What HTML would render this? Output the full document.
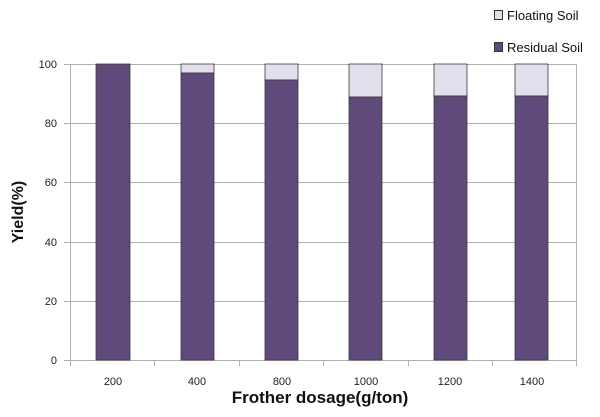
<!DOCTYPE html>
<html><head><meta charset="utf-8"><style>
html,body{margin:0;padding:0;background:#fff;}
svg{display:block;font-family:"Liberation Sans",sans-serif;}
</style></head><body>
<svg width="600" height="417" viewBox="0 0 600 417">
<rect x="0" y="0" width="600" height="417" fill="#fff"/>
<g stroke="#b0b0b0" stroke-width="1">
<line x1="70" y1="64.5" x2="577" y2="64.5"/>
<line x1="70" y1="123.5" x2="577" y2="123.5"/>
<line x1="70" y1="182.5" x2="577" y2="182.5"/>
<line x1="70" y1="242.5" x2="577" y2="242.5"/>
<line x1="70" y1="301.5" x2="577" y2="301.5"/>
<line x1="70.5" y1="64" x2="70.5" y2="360"/>
<line x1="576.5" y1="64" x2="576.5" y2="366"/>
<line x1="64" y1="360.5" x2="577" y2="360.5"/>
<line x1="64" y1="64.5" x2="70" y2="64.5"/>
<line x1="64" y1="123.5" x2="70" y2="123.5"/>
<line x1="64" y1="182.5" x2="70" y2="182.5"/>
<line x1="64" y1="242.5" x2="70" y2="242.5"/>
<line x1="64" y1="301.5" x2="70" y2="301.5"/>
<line x1="70.5" y1="360" x2="70.5" y2="366"/>
<line x1="154.5" y1="360" x2="154.5" y2="366"/>
<line x1="239.5" y1="360" x2="239.5" y2="366"/>
<line x1="323.5" y1="360" x2="323.5" y2="366"/>
<line x1="408.5" y1="360" x2="408.5" y2="366"/>
<line x1="492.5" y1="360" x2="492.5" y2="366"/>
</g>
<g stroke="#3a3a3a" stroke-width="0.8">
<rect x="96" y="64" width="34" height="296" fill="#5f4a7b"/>
<rect x="181" y="64" width="33" height="9" fill="#e3dfec"/>
<rect x="181" y="73" width="33" height="287" fill="#5f4a7b"/>
<rect x="265" y="64" width="33" height="16" fill="#e3dfec"/>
<rect x="265" y="80" width="33" height="280" fill="#5f4a7b"/>
<rect x="349" y="64" width="33" height="33" fill="#e3dfec"/>
<rect x="349" y="97" width="33" height="263" fill="#5f4a7b"/>
<rect x="434" y="64" width="33" height="32" fill="#e3dfec"/>
<rect x="434" y="96" width="33" height="264" fill="#5f4a7b"/>
<rect x="515" y="64" width="33" height="32" fill="#e3dfec"/>
<rect x="515" y="96" width="33" height="264" fill="#5f4a7b"/>
</g>
<g font-size="11" fill="#222" text-anchor="end">
<text x="57" y="68">100</text>
<text x="57" y="127">80</text>
<text x="57" y="186">60</text>
<text x="57" y="246">40</text>
<text x="57" y="305">20</text>
<text x="57" y="364">0</text>
</g>
<g font-size="11" fill="#222" text-anchor="middle">
<text x="113" y="385">200</text>
<text x="197" y="385">400</text>
<text x="282" y="385">800</text>
<text x="366" y="385">1000</text>
<text x="450" y="385">1200</text>
<text x="532" y="385">1400</text>
</g>
<text x="320" y="403" font-size="17" font-weight="bold" text-anchor="middle" fill="#111">Frother dosage(g/ton)</text>
<text transform="translate(23,212) rotate(-90)" font-size="16" font-weight="bold" text-anchor="middle" fill="#111">Yield(%)</text>
<rect x="494.5" y="10.5" width="8" height="9" fill="#e3dfec" stroke="#333" stroke-width="1"/>
<text x="507" y="20" font-size="13" fill="#111">Floating Soil</text>
<rect x="494.5" y="42.5" width="8" height="9" fill="#5f4a7b" stroke="#333" stroke-width="1"/>
<text x="507" y="52" font-size="13" fill="#111">Residual Soil</text>
</svg>
</body></html>
